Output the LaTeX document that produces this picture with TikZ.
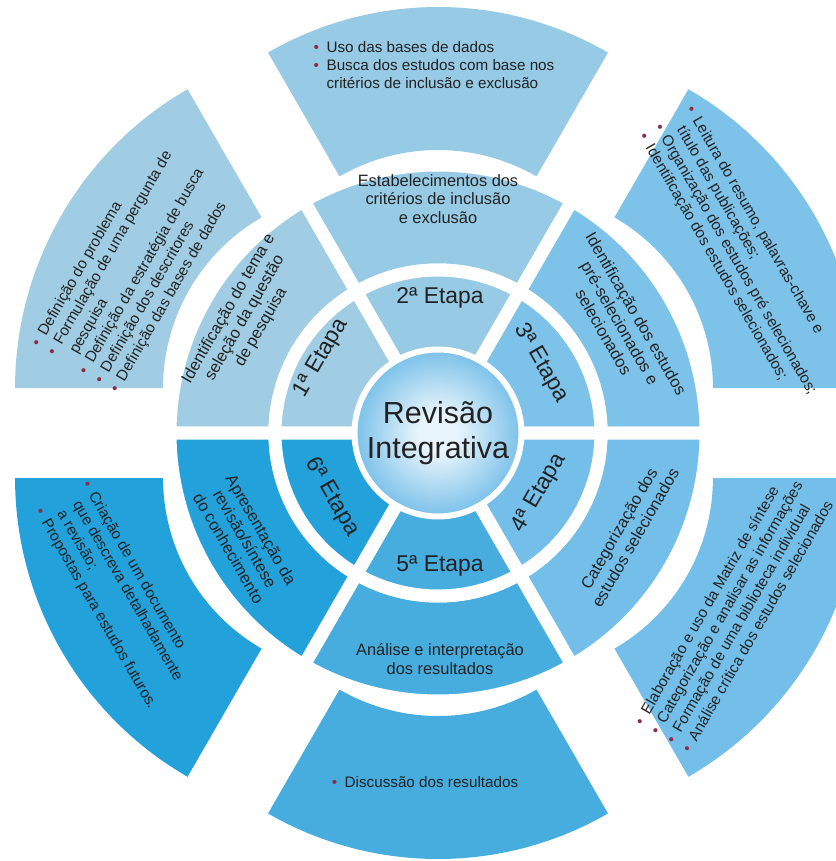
\documentclass[tikz,border=0pt]{standalone}
\usepackage{fontspec}
\setmainfont{Liberation Sans}

\definecolor{stepA}{HTML}{A0CDE3}
\definecolor{stepB}{HTML}{97CAE5}
\definecolor{stepC}{HTML}{7DC2E9}
\definecolor{stepD}{HTML}{73BFEA}
\definecolor{stepE}{HTML}{47ADDF}
\definecolor{stepF}{HTML}{23A1DB}
\definecolor{txt}{HTML}{222222}
\definecolor{dot}{HTML}{8C2D48}
\definecolor{hubin}{HTML}{E8F5FC}
\definecolor{hubout}{HTML}{7DC2EA}

\pgfdeclareradialshading{hubshade}{\pgfpoint{0bp}{0bp}}{%
  color(0bp)=(hubin); color(6bp)=(hubin); color(25bp)=(hubout); color(50bp)=(hubout)}

\newcommand{\listdot}{\makebox[0.85em][l]{\textcolor{dot}{\textbullet}}}
\newcommand{\listgap}{\hspace*{0.85em}}

\tikzset{
  anel/.style={draw=white, line width=0.39cm},
  hub/.style={circle, minimum size=4.92cm, inner sep=0pt, shading=hubshade,
    draw=white, line width=0.09cm, align=center, text=txt,
    font=\fontsize{26}{30}\selectfont},
  etapa/.style={text=txt, font=\fontsize{19.5}{23}\selectfont},
  meio/.style={text=txt, align=center, font=\fontsize{14}{16}\selectfont},
  lista/.style={text=txt, align=left, font=\fontsize{13}{15.5}\selectfont},
}

\begin{document}
\begin{tikzpicture}[x=0.03cm, y=0.03cm]
\useasboundingbox (-438,-428) rectangle (398,433);
\clip (-438,-428) rectangle (398,433);

% Outer pieces, pushed out along their middle line
\foreach \b/\c/\d/\r in {150/stepA/90/345, 90/stepB/86/340, 30/stepC/90/345,
                         -30/stepD/90/345, -90/stepE/86/340, 210/stepF/90/345} {
  \begin{scope}[shift={(\b:\d)}]
    \fill[\c] (\b-30:197) arc[start angle=\b-30, end angle=\b+30, radius=197]
      -- (\b+30:\r) arc[start angle=\b+30, end angle=\b-30, radius=\r] -- cycle;
  \end{scope}
}

% Middle and inner rings
\foreach \a/\c in {120/stepA, 60/stepB, 0/stepC, -60/stepD, -120/stepE, 180/stepF} {
  \filldraw[anel, fill=\c] (\a:163) arc[start angle=\a, end angle=\a+60, radius=163]
    -- (\a+60:268) arc[start angle=\a+60, end angle=\a, radius=268] -- cycle;
  \filldraw[anel, fill=\c] (\a:80) arc[start angle=\a, end angle=\a+60, radius=80]
    -- (\a+60:163) arc[start angle=\a+60, end angle=\a, radius=163] -- cycle;
}

% Centre
\node[hub] (hub) at (0,0) {Revisão\\Integrativa};

% Stages
\node[etapa, rotate=60]  (e1) at (-117,75) {1ª Etapa};
\node[etapa]             (e2) at (2,135)   {2ª Etapa};
\node[etapa, rotate=-60] (e3) at (103,70)  {3ª Etapa};
\node[etapa, rotate=60]  (e4) at (101,-60) {4ª Etapa};
\node[etapa]             (e5) at (2,-133)  {5ª Etapa};
\node[etapa, rotate=-60] (e6) at (-106,-64) {6ª Etapa};

% What each stage is
\node[meio, rotate=60]  (m1) at (-193,115) {Identificação do tema e\\seleção da questão\\de pesquisa};
\node[meio]             (m2) at (0,234)    {Estabelecimentos dos\\critérios de inclusão\\e exclusão};
\node[meio, rotate=-60] (m3) at (182,110)  {Identificação dos estudos\\pré-selecionados e\\selecionados};
\node[meio, rotate=60]  (m4) at (189,-100) {Categorização dos\\estudos selecionados};
\node[meio]             (m5) at (2,-226)   {Análise e interpretação\\dos resultados};
\node[meio, rotate=-60] (m6) at (-193,-106) {Apresentação da\\revisão/síntese\\do conhecimento};

% Tasks
\node[lista, rotate=60] (o1) at (-304,166) {%
  \listdot Definição do problema\\
  \listdot Formulação de uma pergunta de\\
  \listgap pesquisa\\
  \listdot Definição da estratégia de busca\\
  \listdot Definição dos descritores\\
  \listdot Definição das bases de dados};
\node[lista] (o2) at (-4,368) {%
  \listdot Uso das bases de dados\\
  \listdot Busca dos estudos com base nos\\
  \listgap critérios de inclusão e exclusão};
\node[lista, rotate=-60] (o3) at (305,178) {%
  \listdot Leitura do resumo, palavras-chave e\\
  \listgap título das publicações;\\
  \listdot Organização dos estudos pré selecionados;\\
  \listdot Identificação dos estudos selecionados;};
\node[lista, rotate=60] (o4) at (296,-179) {%
  \listdot Elaboração e uso da Matriz de síntese\\
  \listdot Categorização e analisar as informações\\
  \listdot Formação de uma biblioteca individual\\
  \listdot Análise crítica dos estudos selecionados};
\node[lista] (o5) at (-13,-349) {\listdot Discussão dos resultados};
\node[lista, rotate=-60] (o6) at (-319,-162) {%
  \listdot Criação de um documento\\
  \listgap que descreva detalhadamente\\
  \listgap a revisão;\\
  \listdot Propostas para estudos futuros.};

\end{tikzpicture}
\end{document}
